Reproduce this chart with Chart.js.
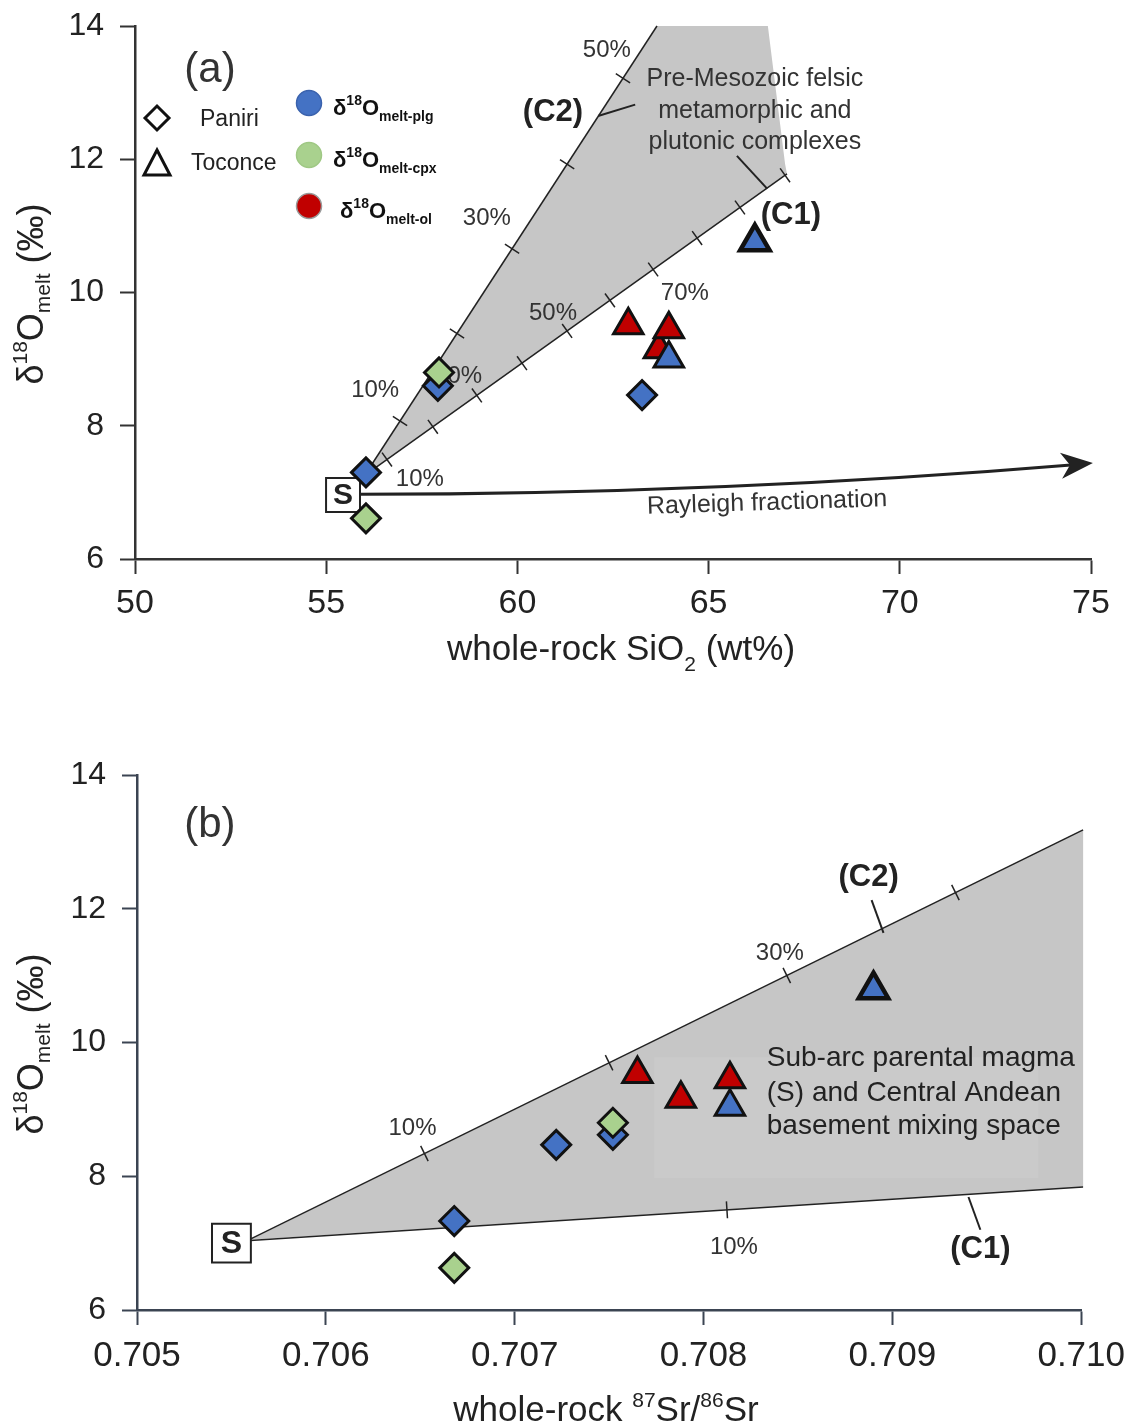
<!DOCTYPE html>
<html><head><meta charset="utf-8">
<script src="https://cdn.jsdelivr.net/npm/chart.js@4.4.1/dist/chart.umd.min.js"></script>
<style>
html,body{margin:0;padding:0;background:#fff;width:1135px;height:1427px;overflow:hidden}
#c1{position:absolute;left:0;top:0}
#c2{position:absolute;left:0;top:700px}
</style></head><body>
<canvas id="c1" width="1135" height="700"></canvas>
<canvas id="c2" width="1135" height="727"></canvas>
<script>
// ---------- axis ticks ----------
const sioTicks = [50, 55, 60, 65, 70, 75];
const d18Ticks = [6, 8, 10, 12, 14];
const srTicks = [0.705, 0.706, 0.707, 0.708, 0.709, 0.710];

// ---------- panel (a): whole-rock SiO2 vs d18O melt ----------
const a_paniriPlg_SiO2 = [56.04, 57.92, 63.26];
const a_paniriPlg_d18O = [7.30, 8.60, 8.46];
const a_paniriCpx_SiO2 = [56.04, 57.95];
const a_paniriCpx_d18O = [6.61, 8.80];
const a_toconceOl_SiO2 = [63.70, 63.96, 62.90];
const a_toconceOl_d18O = [9.15, 9.45, 9.51];
const a_toconcePlg_SiO2 = [63.96, 66.21];
const a_toconcePlg_d18O = [9.01, 10.76];
const a_S = [55.44, 6.96];

const a_C2_x = [56.0, 63.65];
const a_C2_y = [7.25, 14.0];
const a_C1_x = [56.0, 67.05];
const a_C1_y = [7.25, 11.78];
const a_field_x = [56.0, 63.65, 66.55, 67.0, 67.05];
const a_field_y = [7.25, 14.0, 14.0, 11.93, 11.78];
const a_C2_tickX = [56.93, 58.42, 59.86, 61.30, 62.76];
const a_C1_tickX = [56.59, 57.79, 58.94, 60.12, 61.30, 62.42, 63.55, 64.70, 65.82, 67.00];
const a_pctText = ['50%', '30%', '10%', '20%', '10%', '50%', '70%'];
const a_pctX = [62.34, 59.20, 56.28, 58.45, 57.45, 60.93, 64.38];
const a_pctY = [13.63, 11.11, 8.53, 8.74, 7.20, 9.69, 9.99];
const a_arrowX = [55.83, 65.43, 75.05];   // start, control, tip
const a_arrowY = [6.97, 6.98, 7.44];
const a_leaderC2_x = [62.11, 63.08], a_leaderC2_y = [12.65, 12.82];
const a_leaderC1_x = [65.74, 66.53], a_leaderC1_y = [12.05, 11.56];
const a_basementText = ['Pre-Mesozoic felsic', 'metamorphic and', 'plutonic complexes'];
const a_basementX = 66.21, a_basementY = [13.21, 12.73, 12.26];

// ---------- panel (b): whole-rock 87Sr/86Sr vs d18O melt ----------
const b_paniriPlg_Sr = [0.70668, 0.70722, 0.70752];
const b_paniriPlg_d18O = [7.33, 8.47, 8.62];
const b_paniriCpx_Sr = [0.70668, 0.70752];
const b_paniriCpx_d18O = [6.63, 8.80];
const b_toconceOl_Sr = [0.70765, 0.70788, 0.70814];
const b_toconceOl_d18O = [9.53, 9.16, 9.45];
const b_toconcePlg_Sr = [0.70814, 0.70890];
const b_toconcePlg_d18O = [9.04, 10.79];
const b_S = [0.70550, 7.00];

const b_C2_x = [0.70560, 0.71001];
const b_C2_y = [7.06, 13.18];
const b_C1_x = [0.70560, 0.71001];
const b_C1_y = [7.04, 7.84];
const b_C2_tickX = [0.706522, 0.707500, 0.708441, 0.709334];
const b_C1_tickX = [0.708124];
const b_pctText = ['10%', '30%', '10%'];
const b_pctX = [0.706459, 0.708404, 0.708161];
const b_pctY = [8.72, 11.34, 6.94];
const b_leaderC2_x = [0.708890, 0.708953], b_leaderC2_y = [12.13, 11.64];
const b_leaderC1_x = [0.709403, 0.709466], b_leaderC1_y = [7.69, 7.20];
const b_boxX = [0.707738, 0.709773], b_boxY = [9.78, 7.97];
const b_spaceText = ['Sub-arc parental magma', '(S) and Central Andean', 'basement mixing space'];
const b_spaceX = 0.708335, b_spaceY = [9.77, 9.24, 8.74];

// ---------- styling ----------
const FONT = "'Liberation Sans', Arial, sans-serif";
const BLUE = '#4472c4', GREEN = '#a9d18e', RED = '#c00000', EDGE = '#111', GREY = '#c6c6c6';
const TXT = '#333';

const zip = (xs, ys) => xs.map((x, i) => ({x, y: ys[i]}));

function rich(ctx, parts, x, y, align) {
  let w = 0;
  parts.forEach(p => { ctx.font = p[1]; w += ctx.measureText(p[0]).width; });
  let cx = align === 'center' ? x - w / 2 : (align === 'right' ? x - w : x);
  ctx.textAlign = 'left';
  parts.forEach(p => { ctx.font = p[1]; ctx.fillText(p[0], cx, y + (p[2] || 0)); cx += ctx.measureText(p[0]).width; });
}

function scaleCfg(ticksArr, fmt, font, pad, tl, borderColor, fit) {
  return {
    type: 'linear', min: ticksArr[0], max: ticksArr[ticksArr.length - 1],
    afterBuildTicks: s => { s.ticks = ticksArr.map(v => ({value: v})); },
    afterFit: fit,
    ticks: {font: font, color: '#222', padding: pad, callback: fmt, maxRotation: 0, autoSkip: false},
    grid: {drawOnChartArea: false, drawTicks: true, tickLength: tl, tickWidth: 2, tickColor: borderColor, color: borderColor},
    border: {display: true, color: borderColor, width: 2.5}
  };
}

function makeDatasets(plgX, plgY, cpxX, cpxY, olX, olY, tplgX, tplgY, S, sR) {
  return [
    {data: zip(tplgX, tplgY), pointStyle: 'triangle', pointRadius: 17, pointBackgroundColor: BLUE, pointBorderColor: EDGE, pointBorderWidth: [3, 4.5], order: 1},
    {data: zip(olX, olY), pointStyle: 'triangle', pointRadius: 17, pointBackgroundColor: RED, pointBorderColor: EDGE, pointBorderWidth: 3, order: 2},
    {data: zip(cpxX, cpxY), pointStyle: 'rectRot', pointRadius: 14.5, pointBackgroundColor: GREEN, pointBorderColor: EDGE, pointBorderWidth: 3, order: 3},
    {data: zip(plgX, plgY), pointStyle: 'rectRot', pointRadius: 14.5, pointBackgroundColor: BLUE, pointBorderColor: EDGE, pointBorderWidth: 3, order: 4},
    {data: [{x: S[0], y: S[1]}], pointStyle: 'rect', pointRadius: sR, pointBackgroundColor: '#fff', pointBorderColor: '#222', pointBorderWidth: 2, order: 5}
  ];
}

function helpers(chart) {
  const X = v => chart.scales.x.getPixelForValue(v);
  const Y = v => chart.scales.y.getPixelForValue(v);
  return {X, Y};
}
function drawSeg(ctx, X, Y, xs, ys, w, col) {
  ctx.beginPath(); ctx.moveTo(X(xs[0]), Y(ys[0])); ctx.lineTo(X(xs[1]), Y(ys[1]));
  ctx.lineWidth = w; ctx.strokeStyle = col; ctx.stroke();
}
function drawTicksOnLine(ctx, X, Y, lx, ly, tx, len) {
  const px0 = X(lx[0]), py0 = Y(ly[0]), px1 = X(lx[1]), py1 = Y(ly[1]);
  const dx = px1 - px0, dy = py1 - py0, L = Math.hypot(dx, dy);
  const nx = -dy / L, ny = dx / L;
  tx.forEach(t => {
    const f = (t - lx[0]) / (lx[1] - lx[0]);
    const cy = ly[0] + f * (ly[1] - ly[0]);
    const cx = X(t), cyp = Y(cy);
    ctx.beginPath(); ctx.moveTo(cx - nx * len / 2, cyp - ny * len / 2); ctx.lineTo(cx + nx * len / 2, cyp + ny * len / 2);
    ctx.lineWidth = 1.5; ctx.strokeStyle = '#222'; ctx.stroke();
  });
}
function drawPoly(ctx, X, Y, xs, ys, fill) {
  ctx.beginPath();
  xs.forEach((x, i) => { if (i) ctx.lineTo(X(x), Y(ys[i])); else ctx.moveTo(X(x), Y(ys[i])); });
  ctx.closePath(); ctx.fillStyle = fill; ctx.fill();
}
function yTitle(ctx, cy) {
  ctx.save();
  ctx.translate(43, cy); ctx.rotate(-Math.PI / 2);
  ctx.fillStyle = '#222'; ctx.textBaseline = 'alphabetic';
  rich(ctx, [['δ', '36px ' + FONT], ['18', '21px ' + FONT, -16], ['O', '36px ' + FONT], ['melt', '21px ' + FONT, 7], [' (‰)', '36px ' + FONT]], 0, 0, 'center');
  ctx.restore();
}

// ---------- plugin for panel (a) ----------
const annoA = {
  id: 'annoA',
  beforeDatasetsDraw(chart) {
    const ctx = chart.ctx, {X, Y} = helpers(chart);
    ctx.save();
    drawPoly(ctx, X, Y, a_field_x, a_field_y, GREY);
    drawSeg(ctx, X, Y, a_C2_x, a_C2_y, 1.5, '#222');
    drawSeg(ctx, X, Y, a_C1_x, a_C1_y, 1.5, '#222');
    drawTicksOnLine(ctx, X, Y, a_C2_x, a_C2_y, a_C2_tickX, 17);
    drawTicksOnLine(ctx, X, Y, a_C1_x, a_C1_y, a_C1_tickX, 17);
    drawSeg(ctx, X, Y, a_leaderC2_x, a_leaderC2_y, 2, '#222');
    drawSeg(ctx, X, Y, a_leaderC1_x, a_leaderC1_y, 2, '#222');
    ctx.fillStyle = TXT; ctx.font = '24px ' + FONT; ctx.textAlign = 'center'; ctx.textBaseline = 'middle';
    a_pctText.forEach((t, i) => ctx.fillText(t, X(a_pctX[i]), Y(a_pctY[i])));
    ctx.font = '25px ' + FONT; ctx.fillStyle = TXT;
    a_basementText.forEach((t, i) => ctx.fillText(t, X(a_basementX), Y(a_basementY[i])));
    ctx.font = 'bold 31px ' + FONT; ctx.fillStyle = '#222';
    ctx.fillText('(C2)', X(60.93), Y(12.70));
    ctx.fillText('(C1)', X(67.15), Y(11.15));
    ctx.font = '42px ' + FONT; ctx.fillStyle = TXT;
    ctx.fillText('(a)', X(51.96), Y(13.34));
    // Rayleigh arrow
    const sx = X(a_arrowX[0]), sy = Y(a_arrowY[0]), qx = X(a_arrowX[1]), qy = Y(a_arrowY[1]), ex = X(a_arrowX[2]), ey = Y(a_arrowY[2]);
    const ang = Math.atan2(ey - qy, ex - qx);
    const bx = ex - Math.cos(ang) * 22, by = ey - Math.sin(ang) * 22;
    ctx.beginPath(); ctx.moveTo(sx, sy); ctx.quadraticCurveTo(qx, qy, bx, by);
    ctx.lineWidth = 3; ctx.strokeStyle = '#222'; ctx.stroke();
    ctx.save(); ctx.translate(ex, ey); ctx.rotate(ang);
    ctx.beginPath(); ctx.moveTo(0, 0); ctx.lineTo(-32, -13); ctx.lineTo(-23, 0); ctx.lineTo(-32, 13); ctx.closePath();
    ctx.fillStyle = '#222'; ctx.fill(); ctx.restore();
    ctx.save(); ctx.translate(X(66.53), Y(6.84)); ctx.rotate(-1.8 * Math.PI / 180);
    ctx.font = '25px ' + FONT; ctx.fillStyle = TXT; ctx.textAlign = 'center'; ctx.textBaseline = 'middle';
    ctx.fillText('Rayleigh fractionation', 0, 0); ctx.restore();
    ctx.restore();
  },
  afterDatasetsDraw(chart) {
    const ctx = chart.ctx, {X, Y} = helpers(chart);
    ctx.save();
    ctx.font = 'bold 30px ' + FONT; ctx.fillStyle = '#222'; ctx.textAlign = 'center'; ctx.textBaseline = 'middle';
    ctx.fillText('S', X(a_S[0]), Y(a_S[1]) + 1);
    // legend
    const L = chart.chartArea.left, T = chart.chartArea.top;
    ctx.lineWidth = 3; ctx.strokeStyle = '#111';
    ctx.beginPath(); const dx = L + 22, dy = T + 92;
    ctx.moveTo(dx - 12, dy); ctx.lineTo(dx, dy - 12); ctx.lineTo(dx + 12, dy); ctx.lineTo(dx, dy + 12); ctx.closePath(); ctx.stroke();
    const tx = L + 22, ty = T + 137;
    ctx.beginPath(); ctx.moveTo(tx, ty - 13); ctx.lineTo(tx + 13, ty + 12); ctx.lineTo(tx - 13, ty + 12); ctx.closePath(); ctx.stroke();
    ctx.fillStyle = '#222'; ctx.font = '23px ' + FONT; ctx.textAlign = 'left'; ctx.textBaseline = 'alphabetic';
    ctx.fillText('Paniri', L + 65, T + 100);
    ctx.fillText('Toconce', L + 56, T + 144);
    const circ = [[BLUE, '#3a62ad', 77, 'melt-plg', 198], [GREEN, '#9fc884', 129, 'melt-cpx', 198], [RED, '#9a9a9a', 180, 'melt-ol', 205]];
    circ.forEach(c => {
      ctx.beginPath(); ctx.arc(L + 174, T + c[2], 12.5, 0, Math.PI * 2);
      ctx.fillStyle = c[0]; ctx.fill(); ctx.lineWidth = 1.5; ctx.strokeStyle = c[1]; ctx.stroke();
      ctx.fillStyle = '#111';
      rich(ctx, [['δ', 'bold 22px ' + FONT], ['18', 'bold 14px ' + FONT, -10], ['O', 'bold 22px ' + FONT], [c[3], 'bold 14px ' + FONT, 6]], L + c[4], T + c[2] + 12, 'left');
    });
    ctx.restore();
    yTitle(ctx, 294);
    ctx.save(); ctx.fillStyle = '#222'; ctx.textBaseline = 'alphabetic';
    rich(ctx, [['whole-rock SiO', '35px ' + FONT], ['2', '21px ' + FONT, 11], [' (wt%)', '35px ' + FONT]], 621, 660, 'center');
    ctx.restore();
  }
};

// ---------- plugin for panel (b) ----------
const annoB = {
  id: 'annoB',
  beforeDatasetsDraw(chart) {
    const ctx = chart.ctx, {X, Y} = helpers(chart);
    ctx.save();
    drawPoly(ctx, X, Y, [b_C1_x[0], b_C2_x[1], b_C1_x[1]], [(b_C1_y[0] + b_C2_y[0]) / 2, b_C2_y[1], b_C1_y[1]], GREY);
    ctx.fillStyle = 'rgba(255,255,255,0.07)';
    ctx.fillRect(X(b_boxX[0]), Y(b_boxY[0]), X(b_boxX[1]) - X(b_boxX[0]), Y(b_boxY[1]) - Y(b_boxY[0]));
    drawSeg(ctx, X, Y, b_C2_x, b_C2_y, 1.5, '#222');
    drawSeg(ctx, X, Y, b_C1_x, b_C1_y, 1.5, '#222');
    drawTicksOnLine(ctx, X, Y, b_C2_x, b_C2_y, b_C2_tickX, 17);
    drawTicksOnLine(ctx, X, Y, b_C1_x, b_C1_y, b_C1_tickX, 17);
    drawSeg(ctx, X, Y, b_leaderC2_x, b_leaderC2_y, 2, '#222');
    drawSeg(ctx, X, Y, b_leaderC1_x, b_leaderC1_y, 2, '#222');
    ctx.fillStyle = TXT; ctx.font = '24px ' + FONT; ctx.textAlign = 'center'; ctx.textBaseline = 'middle';
    b_pctText.forEach((t, i) => ctx.fillText(t, X(b_pctX[i]), Y(b_pctY[i])));
    ctx.font = 'bold 31px ' + FONT; ctx.fillStyle = '#222';
    ctx.fillText('(C2)', X(0.708874), Y(12.47));
    ctx.fillText('(C1)', X(0.709466), Y(6.90));
    ctx.font = '42px ' + FONT; ctx.fillStyle = TXT;
    ctx.fillText('(b)', X(0.705386), Y(13.24));
    ctx.font = '28px ' + FONT; ctx.fillStyle = '#222'; ctx.textAlign = 'left';
    b_spaceText.forEach((t, i) => ctx.fillText(t, X(b_spaceX), Y(b_spaceY[i])));
    ctx.restore();
  },
  afterDatasetsDraw(chart) {
    const ctx = chart.ctx, {X, Y} = helpers(chart);
    ctx.save();
    ctx.font = 'bold 32px ' + FONT; ctx.fillStyle = '#222'; ctx.textAlign = 'center'; ctx.textBaseline = 'middle';
    ctx.fillText('S', X(b_S[0]), Y(b_S[1]) + 1);
    ctx.restore();
    yTitle(ctx, 344);
    ctx.save(); ctx.fillStyle = '#222'; ctx.textBaseline = 'alphabetic';
    rich(ctx, [['whole-rock ', '35px ' + FONT], ['87', '21px ' + FONT, -14], ['Sr/', '35px ' + FONT], ['86', '21px ' + FONT, -14], ['Sr', '35px ' + FONT]], 606, 721, 'center');
    ctx.restore();
  }
};

const common = {responsive: false, animation: false, events: [], plugins: {legend: {display: false}, tooltip: {enabled: false}}};
const yFit = w => s => { s.width = w; s.paddingTop = 0; s.paddingBottom = 0; };

new Chart(document.getElementById('c1'), {
  type: 'scatter',
  data: {datasets: makeDatasets(a_paniriPlg_SiO2, a_paniriPlg_d18O, a_paniriCpx_SiO2, a_paniriCpx_d18O, a_toconceOl_SiO2, a_toconceOl_d18O, a_toconcePlg_SiO2, a_toconcePlg_d18O, a_S, 24)},
  options: Object.assign({}, common, {
    layout: {padding: {top: 25, right: 44, left: 0, bottom: 0}},
    scales: {
      x: scaleCfg(sioTicks, v => String(v), {family: FONT, size: 34}, 9, 15, '#333', s => { s.height = 141; }),
      y: scaleCfg(d18Ticks, v => String(v), {family: FONT, size: 32}, 16, 15, '#333', yFit(135))
    }
  }),
  plugins: [annoA]
});

new Chart(document.getElementById('c2'), {
  type: 'scatter',
  data: {datasets: makeDatasets(b_paniriPlg_Sr, b_paniriPlg_d18O, b_paniriCpx_Sr, b_paniriCpx_d18O, b_toconceOl_Sr, b_toconceOl_d18O, b_toconcePlg_Sr, b_toconcePlg_d18O, b_S, 27.5)},
  options: Object.assign({}, common, {
    layout: {padding: {top: 75, right: 52, left: 0, bottom: 0}},
    scales: {
      x: scaleCfg(srTicks, v => v.toFixed(3), {family: FONT, size: 35}, 10, 15, '#3b4452', s => { s.height = 117; }),
      y: scaleCfg(d18Ticks, v => String(v), {family: FONT, size: 32}, 16, 15, '#3b4452', yFit(137))
    }
  }),
  plugins: [annoB]
});
</script>
</body></html>
